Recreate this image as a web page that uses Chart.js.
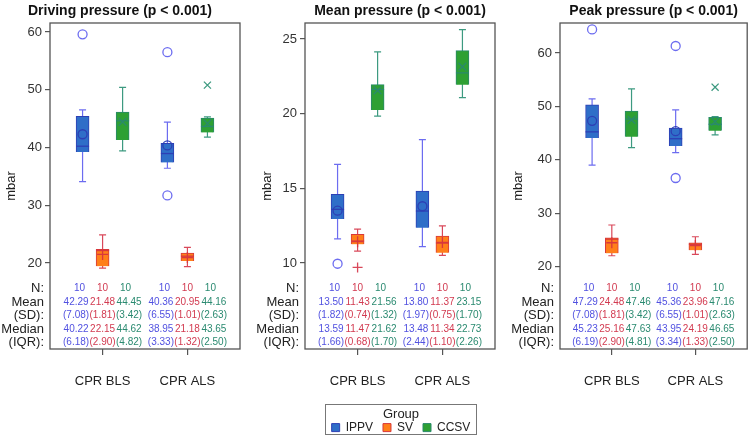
<!DOCTYPE html>
<html>
<head>
<meta charset="utf-8">
<script src="https://cdn.jsdelivr.net/npm/chart.js@4"></script>
<style>
  body { margin: 0; background: #fff; }
  #wrap { position: relative; width: 754px; height: 436px; overflow: hidden; font-family: "Liberation Sans", Arial, sans-serif; }
  #wrap canvas { position: absolute; top: 0; }
  #c1 { left: 0; }
  #c2 { left: 250px; }
  #c3 { left: 504px; }
  #legbox { position: absolute; left: 325px; top: 404px; width: 150px; height: 29px; border: 1px solid #777; overflow: hidden; }
  #legbox canvas { left: -15px; top: 0; }
</style>
</head>
<body>
<div id="wrap">
  <canvas id="c1" width="250" height="436"></canvas>
  <canvas id="c2" width="254" height="436"></canvas>
  <canvas id="c3" width="250" height="436"></canvas>
  <div id="legbox"><canvas id="leg" width="180" height="90"></canvas></div>
</div>
<script>
const groups = ['IPPV', 'SV', 'CCSV'];
const categories = ['CPR BLS', 'CPR ALS'];
const rowLabels = ['N:', 'Mean', '(SD):', 'Median', '(IQR):'];

// values are [category][group] -> [BLS: IPPV, SV, CCSV], [ALS: IPPV, SV, CCSV]
const drivingN = [[10, 10, 10], [10, 10, 10]];
const drivingLow = [[34.1, 19.1, 39.4], [36.4, 19.35, 41.8]];
const drivingQ1 = [[39.2, 19.45, 41.3], [37.4, 20.35, 42.6]];
const drivingMedian = [[40.22, 22.15, 44.62], [38.95, 21.18, 43.65]];
const drivingQ3 = [[45.4, 22.35, 46.15], [40.7, 21.7, 45.1]];
const drivingHigh = [[46.5, 24.85, 50.4], [44.4, 22.7, 45.3]];
const drivingMean = [[42.29, 21.48, 44.45], [40.36, 20.95, 44.16]];
const drivingSD = [[7.08, 1.81, 3.42], [6.55, 1.01, 2.63]];
const drivingIQR = [[6.18, 2.90, 4.82], [3.33, 1.32, 2.50]];
const drivingOutliers = [[[59.6], [], []], [[56.5, 31.7], [], [50.8]]];
const drivingTicks = [20, 30, 40, 50, 60];

const meanN = [[10, 10, 10], [10, 10, 10]];
const meanLow = [[11.62, 10.8, 19.84], [11.09, 10.51, 21.07]];
const meanQ1 = [[12.94, 11.25, 20.24], [12.36, 10.69, 21.94]];
const meanMedian = [[13.59, 11.47, 21.62], [13.48, 11.34, 22.73]];
const meanQ3 = [[14.6, 11.92, 21.94], [14.82, 11.8, 24.22]];
const meanHigh = [[16.6, 12.27, 24.13], [18.26, 12.49, 25.62]];
const meanMean = [[13.50, 11.43, 21.56], [13.80, 11.37, 23.15]];
const meanSD = [[1.82, 0.74, 1.32], [1.97, 0.75, 1.70]];
const meanIQR = [[1.66, 0.68, 1.70], [2.44, 1.10, 2.26]];
const meanOutliers = [[[9.95], [9.7], []], [[], [], []]];
const meanTicks = [10, 15, 20, 25];

const peakN = [[10, 10, 10], [10, 10, 10]];
const peakLow = [[39.0, 22.05, 42.27], [41.33, 22.3, 44.65]];
const peakQ1 = [[44.1, 22.5, 44.33], [42.6, 23.1, 45.45]];
const peakMedian = [[45.23, 25.16, 47.63], [43.95, 24.19, 46.65]];
const peakQ3 = [[50.3, 25.4, 49.1], [45.95, 24.45, 47.95]];
const peakHigh = [[51.4, 27.8, 53.26], [49.33, 25.6, 48.1]];
const peakMean = [[47.29, 24.48, 47.46], [45.36, 23.96, 47.16]];
const peakSD = [[7.08, 1.81, 3.42], [6.55, 1.01, 2.63]];
const peakIQR = [[6.19, 2.90, 4.81], [3.34, 1.33, 2.50]];
const peakOutliers = [[[64.4], [], []], [[61.3, 36.6], [], [53.6]]];
const peakTicks = [20, 30, 40, 50, 60];

// styles
const FONT = '"Liberation Sans", Arial, sans-serif';
const boxFill = ['#2f6ec8', '#ff7f1a', '#2ea033'];
const boxEdge = ['#2d3fb5', '#d8383c', '#2a8a6c'];
const whiskerColor = ['#6c6cf0', '#d9485a', '#3d9a80'];
const textColor = ['#5151e0', '#d23a50', '#2a8a70'];
const meanStyle = ['circle', 'cross', 'crossRot'];
const groupOffset = [-0.236, 0, 0.236];

Chart.defaults.font.family = FONT;
Chart.defaults.animation = false;

function boxX(chart, ci, g) {
  return chart.scales.x.getPixelForValue(ci + 1 + groupOffset[g]);
}

const boxPlugin = {
  id: 'boxDecor',
  beforeDatasetsDraw(chart) {
    // whiskers go under the boxes
    const s = chart.options.plugins.boxDecor.stats;
    const y = chart.scales.y;
    const ctx = chart.ctx;
    ctx.save();
    ctx.lineWidth = 1.2;
    categories.forEach((c, ci) => {
      groups.forEach((gname, g) => {
        const x = boxX(chart, ci, g);
        ctx.strokeStyle = whiskerColor[g];
        ctx.beginPath();
        ctx.moveTo(x, y.getPixelForValue(s.low[ci][g]));
        ctx.lineTo(x, y.getPixelForValue(s.high[ci][g]));
        [s.low[ci][g], s.high[ci][g]].forEach(v => {
          const py = y.getPixelForValue(v);
          ctx.moveTo(x - 3.5, py);
          ctx.lineTo(x + 3.5, py);
        });
        ctx.stroke();
      });
    });
    ctx.restore();
  },
  afterDatasetDraw(chart, args) {
    // median line right after the box of that group is drawn
    if (args.meta.type !== 'bar') return;
    const g = args.index;
    const s = chart.options.plugins.boxDecor.stats;
    const y = chart.scales.y;
    const ctx = chart.ctx;
    ctx.save();
    ctx.lineWidth = 1.3;
    ctx.strokeStyle = boxEdge[g];
    categories.forEach((c, ci) => {
      const x = boxX(chart, ci, g);
      const py = y.getPixelForValue(s.median[ci][g]);
      ctx.beginPath();
      ctx.moveTo(x - 6.5, py);
      ctx.lineTo(x + 6.5, py);
      ctx.stroke();
    });
    ctx.restore();
  },
  afterDatasetsDraw(chart) {
    const opts = chart.options.plugins.boxDecor;
    const s = opts.stats;
    const area = chart.chartArea;
    const ctx = chart.ctx;
    ctx.save();
    // frame
    ctx.strokeStyle = '#555';
    ctx.lineWidth = 1.3;
    ctx.strokeRect(area.left, area.top, area.right - area.left, area.bottom - area.top);
    // title
    ctx.fillStyle = '#111';
    ctx.font = 'bold 14px ' + FONT;
    ctx.textAlign = 'center';
    ctx.textBaseline = 'middle';
    ctx.fillText(opts.title, (area.left + area.right) / 2 + opts.titleShift, 11);
    // row labels
    const rowY = [61, 47, 34, 20, 7].map(d => area.bottom - d);
    ctx.fillStyle = '#222';
    ctx.font = '13px ' + FONT;
    ctx.textAlign = 'right';
    rowLabels.forEach((t, i) => ctx.fillText(t, area.left - 6, rowY[i]));
    // table values
    ctx.textAlign = 'center';
    ctx.font = '10px ' + FONT;
    categories.forEach((c, ci) => {
      const cx = chart.scales.x.getPixelForValue(ci + 1);
      groups.forEach((gname, g) => {
        ctx.fillStyle = textColor[g];
        const xn = cx + (g - 1) * 23;
        const xs = cx + (g - 1) * 26.5;
        ctx.fillText(String(s.n[ci][g]), xn, rowY[0]);
        ctx.fillText(s.mean[ci][g].toFixed(2), xs, rowY[1]);
        ctx.fillText('(' + s.sd[ci][g].toFixed(2) + ')', xs, rowY[2]);
        ctx.fillText(s.median[ci][g].toFixed(2), xs, rowY[3]);
        ctx.fillText('(' + s.iqr[ci][g].toFixed(2) + ')', xs, rowY[4]);
      });
    });
    ctx.restore();
  }
};

function makePanel(id, title, stats, yTicks, yMin, yMax, padLeft, yWidth, padRight, titleShift) {
  const datasets = [];
  groups.forEach((gname, g) => {
    datasets.push({
      type: 'bar',
      label: gname,
      order: 2,
      data: categories.map((c, ci) => ({ x: ci + 1 + groupOffset[g], y: [stats.q1[ci][g], stats.q3[ci][g]] })),
      backgroundColor: boxFill[g],
      borderColor: boxEdge[g],
      borderWidth: 1,
      barThickness: 13,
      grouped: false
    });
  });
  groups.forEach((gname, g) => {
    datasets.push({
      type: 'scatter',
      label: gname + ' mean',
      order: 1,
      data: categories.map((c, ci) => ({ x: ci + 1 + groupOffset[g], y: stats.mean[ci][g] })),
      pointStyle: meanStyle[g],
      radius: g === 0 ? 4.5 : 5.5,
      borderColor: boxEdge[g],
      backgroundColor: 'transparent',
      borderWidth: 1.3
    });
    const pts = [];
    categories.forEach((c, ci) => {
      stats.outliers[ci][g].forEach(v => pts.push({ x: ci + 1 + groupOffset[g], y: v }));
    });
    datasets.push({
      type: 'scatter',
      label: gname + ' outliers',
      order: 1,
      data: pts,
      pointStyle: meanStyle[g],
      radius: g === 0 ? 4.5 : 5,
      borderColor: whiskerColor[g],
      backgroundColor: 'transparent',
      borderWidth: 1.3
    });
  });

  return new Chart(document.getElementById(id), {
    type: 'bar',
    data: { datasets: datasets },
    plugins: [boxPlugin],
    options: {
      responsive: false,
      layout: { padding: { top: 23, left: padLeft, right: padRight, bottom: 0 } },
      scales: {
        x: {
          type: 'linear',
          offset: false,
          min: 0.38,
          max: 2.62,
          afterBuildTicks: s => { s.ticks = categories.map((c, i) => ({ value: i + 1 })); },
          afterFit: s => { s.height = 87; },
          ticks: {
            callback: v => categories[Math.round(v) - 1],
            font: { size: 13 },
            color: '#222',
            padding: 19,
            maxRotation: 0,
            autoSkip: false
          },
          grid: { drawOnChartArea: false, offset: false, tickLength: 6, color: '#555', lineWidth: 1.2 },
          border: { display: false }
        },
        y: {
          type: 'linear',
          min: yMin,
          max: yMax,
          afterBuildTicks: s => { s.ticks = yTicks.map(v => ({ value: v })); },
          afterFit: s => { s.width = yWidth; },
          ticks: { font: { size: 13 }, color: '#333', padding: 3 },
          grid: { drawOnChartArea: false, tickLength: 5, color: '#555', lineWidth: 1.2 },
          border: { display: false },
          title: { display: true, text: 'mbar', font: { size: 13 }, color: '#222', padding: 0 }
        }
      },
      plugins: {
        legend: { display: false },
        tooltip: { enabled: false },
        boxDecor: { stats: stats, title: title, titleShift: titleShift }
      }
    }
  });
}

makePanel('c1', 'Driving pressure (p < 0.001)', {
  n: drivingN, low: drivingLow, q1: drivingQ1, median: drivingMedian, q3: drivingQ3, high: drivingHigh,
  mean: drivingMean, sd: drivingSD, iqr: drivingIQR, outliers: drivingOutliers
}, drivingTicks, 5.1, 61.56, 4, 46, 10, -25);

makePanel('c2', 'Mean pressure (p < 0.001)', {
  n: meanN, low: meanLow, q1: meanQ1, median: meanMedian, q3: meanQ3, high: meanHigh,
  mean: meanMean, sd: meanSD, iqr: meanIQR, outliers: meanOutliers
}, meanTicks, 4.24, 26.07, 10, 45, 9, 0);

makePanel('c3', 'Peak pressure (p < 0.001)', {
  n: peakN, low: peakLow, q1: peakQ1, median: peakMedian, q3: peakQ3, high: peakHigh,
  mean: peakMean, sd: peakSD, iqr: peakIQR, outliers: peakOutliers
}, peakTicks, 4.6, 65.6, 7, 49, 4, 0);

// legend
new Chart(document.getElementById('leg'), {
  type: 'bar',
  data: {
    labels: [],
    datasets: groups.map((gname, g) => ({
      label: gname, data: [], backgroundColor: boxFill[g], borderColor: boxEdge[g], borderWidth: 1
    }))
  },
  options: {
    responsive: false,
    layout: { padding: 0 },
    scales: { x: { display: false }, y: { display: false } },
    plugins: {
      tooltip: { enabled: false },
      legend: {
        position: 'top',
        title: { display: true, text: 'Group', font: { size: 13 }, color: '#222', padding: { top: 3, bottom: -12 } },
        labels: { boxWidth: 8, boxHeight: 8, font: { size: 12 }, color: '#222', padding: 10 }
      }
    }
  }
});
</script>
</body>
</html>
